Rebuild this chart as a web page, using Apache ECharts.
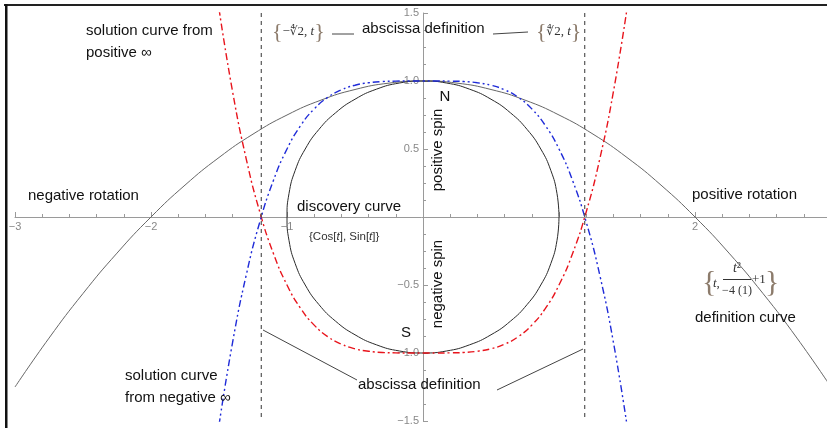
<!DOCTYPE html>
<html><head><meta charset="utf-8">
<script src="https://cdn.jsdelivr.net/npm/echarts@6/dist/echarts.min.js"></script>
<style>html,body{margin:0;padding:0;background:#fff}#c{width:827px;height:428px}</style>
</head><body><div id="c"></div>
<script>
// ---- data ----
const circlePts = [[1,0],[0.985,0.174],[0.94,0.342],[0.866,0.5],[0.766,0.643],[0.643,0.766],[0.5,0.866],[0.342,0.94],[0.174,0.985],[0,1],
 [-0.174,0.985],[-0.342,0.94],[-0.5,0.866],[-0.643,0.766],[-0.766,0.643],[-0.866,0.5],[-0.94,0.342],[-0.985,0.174],[-1,0],
 [-0.985,-0.174],[-0.94,-0.342],[-0.866,-0.5],[-0.766,-0.643],[-0.643,-0.766],[-0.5,-0.866],[-0.342,-0.94],[-0.174,-0.985],[0,-1],
 [0.174,-0.985],[0.342,-0.94],[0.5,-0.866],[0.643,-0.766],[0.766,-0.643],[0.866,-0.5],[0.94,-0.342],[0.985,-0.174],[1,0]];
const parabolaX = [-3,-2.75,-2.5,-2.25,-2,-1.75,-1.5,-1.25,-1,-0.75,-0.5,-0.25,0,0.25,0.5,0.75,1,1.25,1.5,1.75,2,2.25,2.5,2.75,3];
const parabolaY = [-1.25,-0.8906,-0.5625,-0.2656,0,0.2344,0.4375,0.6094,0.75,0.8594,0.9375,0.9844,1,0.9844,0.9375,0.8594,0.75,0.6094,0.4375,0.2344,0,-0.2656,-0.5625,-0.8906,-1.25];
const quarticX = [-1.5,-1.4,-1.3,-1.2,-1.1,-1,-0.9,-0.8,-0.7,-0.6,-0.5,-0.4,-0.3,-0.2,-0.1,0,0.1,0.2,0.3,0.4,0.5,0.6,0.7,0.8,0.9,1,1.1,1.2,1.3,1.4,1.5];
const redY  = [1.531,0.921,0.428,0.037,-0.268,-0.5,-0.672,-0.795,-0.88,-0.935,-0.969,-0.987,-0.996,-0.999,-1,-1,-1,-0.999,-0.996,-0.987,-0.969,-0.935,-0.88,-0.795,-0.672,-0.5,-0.268,0.037,0.428,0.921,1.531];
const blueY = [-1.531,-0.921,-0.428,-0.037,0.268,0.5,0.672,0.795,0.88,0.935,0.969,0.987,0.996,0.999,1,1,1,0.999,0.996,0.987,0.969,0.935,0.88,0.795,0.672,0.5,0.268,-0.037,-0.428,-0.921,-1.531];
const abscissaX = [-1.189, 1.189];
const abscissaYRange = [1.5, -1.5];
const xTickValues = [-3,-2,-1,2];
const xTickLabels = ['−3','−2','−1','2'];
const yTickValues = [1.5,1,0.5,-0.5,-1,-1.5];
const yTickLabels = ['1.5','1.0','0.5','−0.5','−1.0','−1.5'];

// ---- layout ----
const G = { left: 15, top: 13, width: 816, height: 408 };
const SANS = 'Liberation Sans, Arial, sans-serif';
const SERIF = 'Liberation Serif, DejaVu Serif, serif';
function txt(x, y, text, o) {
  o = o || {};
  return { type: 'text', x: x, y: y, rotation: o.rot || 0, z: 100,
    style: { text: text, fill: o.fill || '#111', font: o.font || ('15px ' + SANS),
      align: o.align || 'left', verticalAlign: 'middle', rich: o.rich } };
}
function seg(x1, y1, x2, y2) {
  return { type: 'line', z: 100, shape: { x1: x1, y1: y1, x2: x2, y2: y2 }, style: { stroke: '#444', lineWidth: 1 } };
}
const BR = '#8c7b6b';
const mathRich = {
  m: { fontSize: 13, fontFamily: SERIF, fill: '#333', verticalAlign: 'middle' },
  r: { fontSize: 12, fontFamily: 'DejaVu Sans, sans-serif', fill: '#333', verticalAlign: 'middle' },
  i: { fontSize: 13, fontFamily: SERIF, fontStyle: 'italic', fill: '#333', verticalAlign: 'middle' },
  n: { fontSize: 14, fontFamily: SERIF, fill: '#333', verticalAlign: 'middle' },
  ni: { fontSize: 14, fontFamily: SERIF, fontStyle: 'italic', fill: '#333', verticalAlign: 'middle' }
};
const braceFont = '22px ' + SERIF;

const chart = echarts.init(document.getElementById('c'), null, { renderer: 'canvas' });
const zip = (xs, ys) => xs.map((x, i) => [x, ys[i]]);
const axisGray = '#9a9a9a';

chart.setOption({
  animation: false,
  grid: Object.assign({ containLabel: false, outerBoundsMode: 'none' }, G),
  xAxis: { type: 'value', min: -3, max: 3, interval: 1, position: 'bottom', offset: -G.height / 2,
    axisLine: { onZero: false, lineStyle: { color: axisGray, width: 1 } },
    axisTick: { inside: true, length: 5, lineStyle: { color: axisGray } },
    minorTick: { show: true, splitNumber: 5, length: 3, lineStyle: { color: axisGray } },
    splitLine: { show: false }, minorSplitLine: { show: false },
    axisLabel: { color: '#888', fontSize: 11, fontFamily: SANS, margin: 4, hideOverlap: false,
      formatter: v => { const k = xTickValues.indexOf(v); return k >= 0 ? xTickLabels[k] : ''; } } },
  yAxis: { type: 'value', min: -1.5, max: 1.5, interval: 0.5, position: 'left', offset: -G.width / 2,
    axisLine: { onZero: false, lineStyle: { color: axisGray, width: 1 } },
    axisTick: { inside: true, length: 5, lineStyle: { color: axisGray } },
    minorTick: { show: true, splitNumber: 4, length: 3, lineStyle: { color: axisGray } },
    splitLine: { show: false }, minorSplitLine: { show: false },
    axisLabel: { color: '#888', fontSize: 11, fontFamily: SANS, margin: 4, hideOverlap: false,
      formatter: v => { const k = yTickValues.indexOf(v); return k >= 0 ? yTickLabels[k] : ''; } } },
  series: [
    { type: 'line', data: zip(parabolaX, parabolaY), smooth: true, showSymbol: false, silent: true,
      lineStyle: { color: '#666', width: 1 } },
    { type: 'line', data: circlePts, smooth: true, showSymbol: false, silent: true,
      lineStyle: { color: '#2a2a2a', width: 1 } },
    { type: 'line', data: zip(quarticX, redY), smooth: true, showSymbol: false, silent: true,
      lineStyle: { color: '#e8141c', width: 1.4, type: [7, 3, 2, 3] } },
    { type: 'line', data: zip(quarticX, blueY), smooth: true, showSymbol: false, silent: true,
      lineStyle: { color: '#1f2bd8', width: 1.4, type: [7, 3, 2, 3, 2, 3] } },
    { type: 'line', data: abscissaYRange.map(y => [abscissaX[0], y]), showSymbol: false, silent: true,
      lineStyle: { color: '#555', width: 1.2, type: [4, 4] } },
    { type: 'line', data: abscissaYRange.map(y => [abscissaX[1], y]), showSymbol: false, silent: true,
      lineStyle: { color: '#555', width: 1.2, type: [4, 4] } }
  ],
  graphic: [
    // frame
    { type: 'rect', z: 100, shape: { x: 4, y: 4, width: 827, height: 2 }, style: { fill: '#222' } },
    { type: 'rect', z: 100, shape: { x: 5, y: 4, width: 2.5, height: 430 }, style: { fill: '#111' } },
    // labels
    txt(86, 31, 'solution curve from'),
    txt(86, 53, 'positive ∞'),
    txt(362, 29, 'abscissa definition'),
    txt(28, 196, 'negative rotation'),
    txt(297, 207, 'discovery curve'),
    txt(692, 195, 'positive rotation'),
    txt(695, 318, 'definition curve'),
    txt(125, 376, 'solution curve'),
    txt(125, 398, 'from negative ∞'),
    txt(358, 385, 'abscissa definition'),
    txt(445, 97, 'N', { align: 'center' }),
    txt(406, 333, 'S', { align: 'center' }),
    txt(438, 150, 'positive spin', { align: 'center', rot: Math.PI / 2 }),
    txt(438, 284, 'negative spin', { align: 'center', rot: Math.PI / 2 }),
    txt(309, 237, '{a|{Cos[}{b|t}{a|], Sin[}{b|t}{a|]}}', { font: '11.5px ' + SANS, fill: '#333', rich: {
      a: { fontSize: 11.5, fontFamily: SANS, fill: '#333' },
      b: { fontSize: 11.5, fontFamily: SANS, fontStyle: 'italic', fill: '#333' } } }),
    // connector lines
    seg(332, 34, 354, 34),
    seg(493, 34, 528, 32),
    seg(263, 330, 357, 380),
    seg(497, 390, 583, 349),
    // {-4√2, t}
    txt(272, 32, '{{m|−}{r|∜}{m|2, }{i|t}}', { font: braceFont, fill: BR, rich: mathRich }),
    // {4√2, t}
    txt(536, 32, '{{r|∜}{m|2, }{i|t}}', { font: braceFont, fill: BR, rich: mathRich }),
    // {t, t^2/(-4(1)) + 1}
    txt(702, 283, '{', { font: '30px ' + SERIF, fill: BR }),
    txt(713, 284, '{i|t}{m|,}', { rich: mathRich }),
    txt(737, 268, '{ni|t}{n|²}', { align: 'center', rich: mathRich }),
    { type: 'line', z: 100, shape: { x1: 723, y1: 279.5, x2: 751, y2: 279.5 }, style: { stroke: '#333', lineWidth: 1 } },
    txt(737, 291, '−4 (1)', { align: 'center', font: '12px ' + SERIF, fill: '#333' }),
    txt(752, 280, '+1', { font: '13px ' + SERIF, fill: '#333' }),
    txt(765, 283, '}', { font: '30px ' + SERIF, fill: BR })
  ]
});
</script></body></html>
